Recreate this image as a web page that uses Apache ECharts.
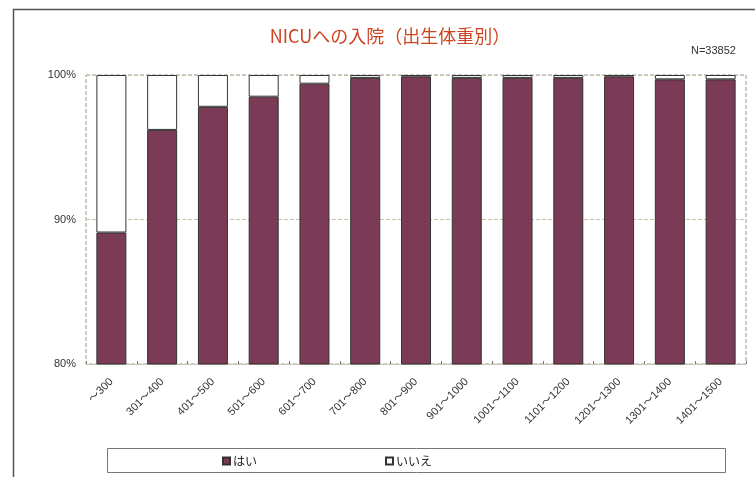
<!DOCTYPE html>
<html>
<head>
<meta charset="utf-8">
<script src="https://cdn.jsdelivr.net/npm/echarts@6/dist/echarts.min.js"></script>
<style>
  html, body { margin: 0; padding: 0; background: #fff; }
  #chart { width: 755px; height: 477px; }
</style>
</head>
<body>
<div id="chart"></div>
<script>
// Birth weight groups (g)
const categories = ['～300', '301～400', '401～500', '501～600', '601～700', '701～800', '801～900',
  '901～1000', '1001～1100', '1101～1200', '1201～1300', '1301～1400', '1401～1500'];
// Share admitted to NICU (%)
const yesValues = [89.1, 96.2, 97.8, 98.5, 99.4, 99.8, 99.9, 99.8, 99.8, 99.8, 99.9, 99.7, 99.7];
// Share not admitted (%)
const noValues = yesValues.map(v => +(100 - v).toFixed(1));
const yTicks = [80, 90, 100];

const FONT = '"Liberation Sans", "Noto Sans CJK JP", sans-serif';
const chart = echarts.init(document.getElementById('chart'));

chart.setOption({
  animation: false,
  backgroundColor: '#fff',
  textStyle: { fontFamily: FONT },
  title: [{
    text: 'NICUへの入院（出生体重別）',
    left: 385, top: 22, textAlign: 'center',
    textStyle: { fontFamily: '"Noto Sans CJK JP", sans-serif', fontSize: 18, fontWeight: 'normal', color: '#cc4422' }
  }, {
    text: 'N=33852',
    left: 686, top: 40,
    textStyle: { fontFamily: FONT, fontSize: 11, fontWeight: 'normal', color: '#333' }
  }],
  legend: {
    left: 217, top: 450,
    itemWidth: 7, itemHeight: 7, itemGap: 128,
    icon: 'rect',
    textStyle: { fontFamily: '"Noto Sans CJK JP", sans-serif', fontSize: 12, color: '#222', padding: [0, 0, 0, -2] },
    data: ['はい', 'いいえ']
  },
  graphic: [{
    type: 'rect', silent: true,
    shape: { x: 13.5, y: 9.5, width: 760, height: 480 },
    style: { fill: 'none', stroke: '#555', lineWidth: 1.5 }
  }, {
    type: 'rect', silent: true,
    shape: { x: 107.5, y: 448.5, width: 618, height: 24 },
    style: { fill: 'none', stroke: '#777', lineWidth: 1 }
  }],
  grid: {
    left: 86, right: 9, top: 75, bottom: 113,
    show: true, borderColor: '#999', borderWidth: 1, borderType: 'dashed'
  },
  xAxis: {
    type: 'category',
    data: categories,
    axisLine: { show: false },
    axisTick: { show: true, inside: true, length: 3, lineStyle: { color: '#777' } },
    axisLabel: { rotate: 45, fontSize: 11, color: '#333', margin: 16, interval: 0 }
  },
  yAxis: {
    type: 'value',
    min: yTicks[0], max: yTicks[yTicks.length - 1], interval: 10,
    axisLine: { show: false },
    axisTick: { show: false },
    axisLabel: { formatter: '{value}%', fontSize: 11, color: '#333', margin: 10 },
    splitLine: { show: true, lineStyle: { color: '#c9c3a6', type: 'dashed', width: 1 } }
  },
  series: [{
    name: 'はい', type: 'bar', stack: 'total',
    barWidth: 30,
    data: yesValues,
    itemStyle: { color: '#7b3a55', borderColor: '#333', borderWidth: 1 }
  }, {
    name: 'いいえ', type: 'bar', stack: 'total',
    barWidth: 30,
    data: noValues,
    itemStyle: { color: '#fff', borderColor: '#333', borderWidth: 1 }
  }]
});
</script>
</body>
</html>
